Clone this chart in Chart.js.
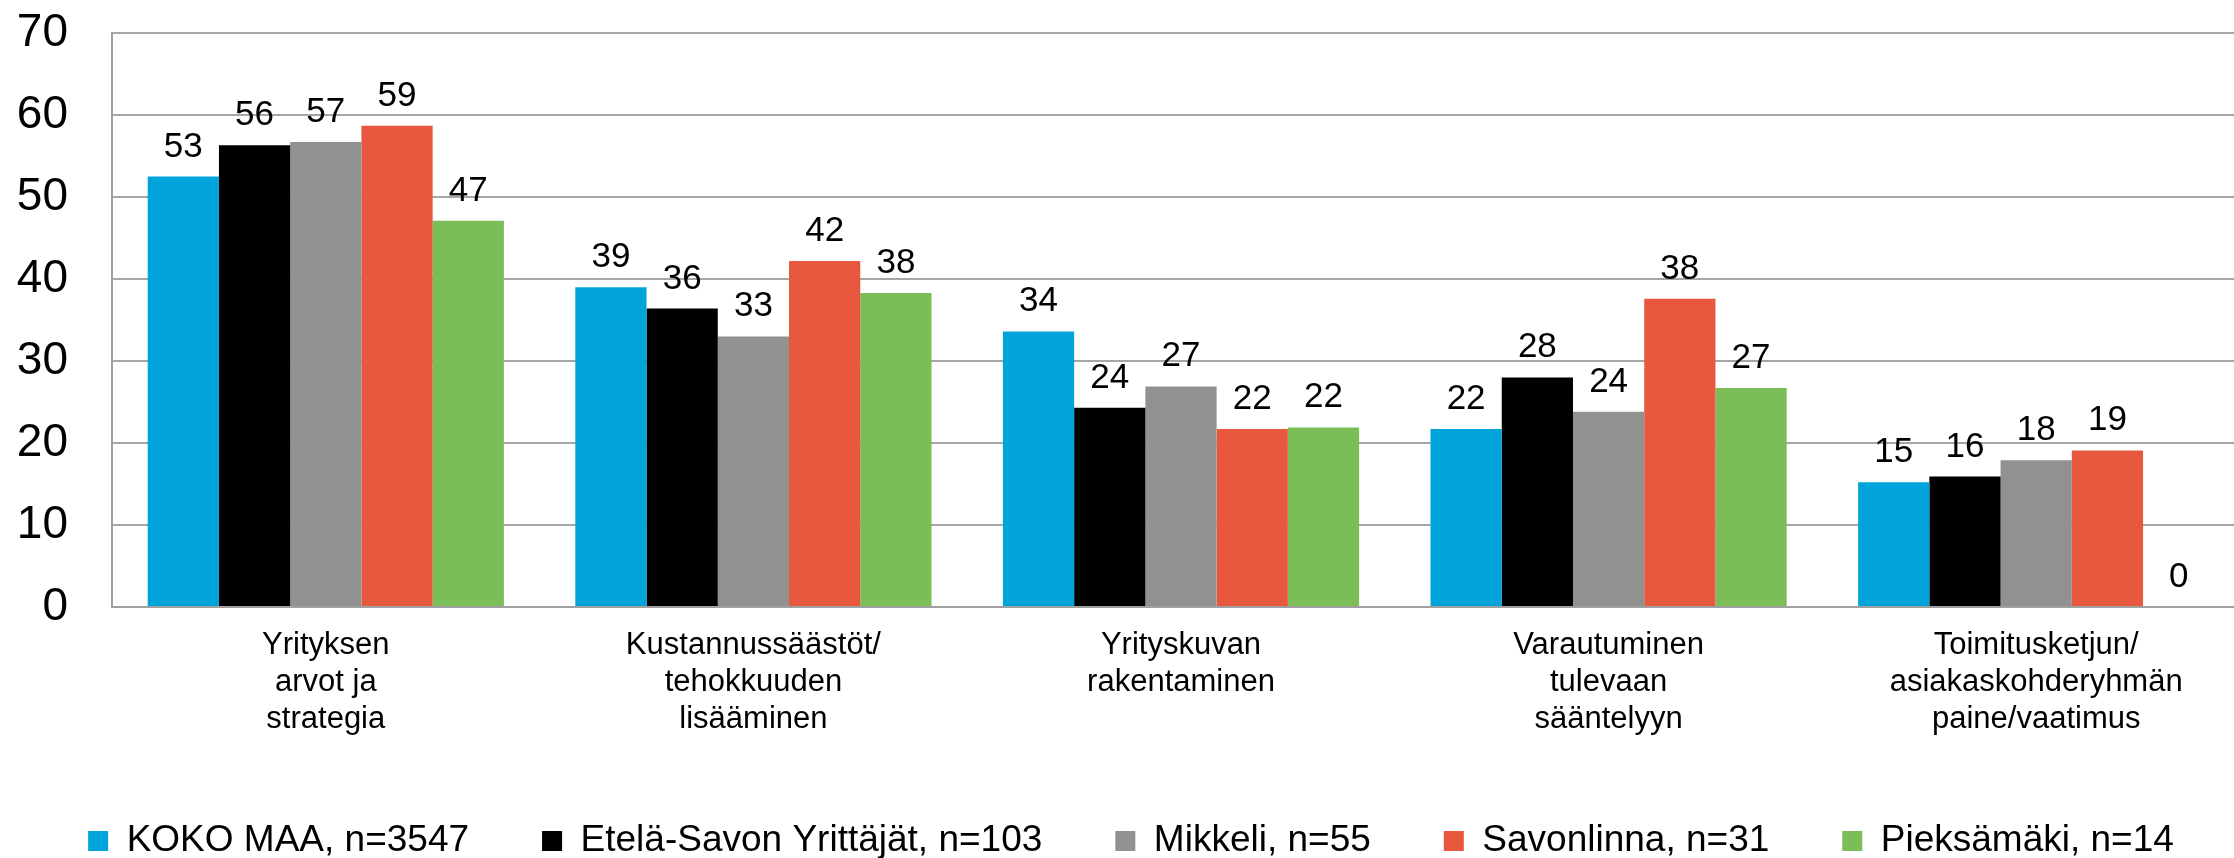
<!DOCTYPE html>
<html>
<head>
<meta charset="utf-8">
<script src="https://cdn.jsdelivr.net/npm/chart.js@4"></script>
<style>
  html, body { margin: 0; padding: 0; background: #fff; overflow: hidden; }
  #wrap { width: 2276px; height: 858px; position: relative; }
</style>
</head>
<body>
<div id="wrap"><canvas id="canvas"></canvas></div>
<script>
// kategoriat ja sarjat
var kategoriat = [
  ["Yrityksen", "arvot ja", "strategia"],
  ["Kustannussäästöt/", "tehokkuuden", "lisääminen"],
  ["Yrityskuvan", "rakentaminen"],
  ["Varautuminen", "tulevaan", "sääntelyyn"],
  ["Toimitusketjun/", "asiakaskohderyhmän", "paine/vaatimus"]
];
var sarjaNimet = ["KOKO MAA, n=3547", "Etelä-Savon Yrittäjät, n=103", "Mikkeli, n=55", "Savonlinna, n=31", "Pieksämäki, n=14"];
var kokoMaa    = [52.5, 39.0, 33.6, 21.7, 15.2];
var etelaSavo  = [56.3, 36.4, 24.3, 28.0, 15.9];
var mikkeli    = [56.7, 33.0, 26.9, 23.8, 17.9];
var savonlinna = [58.7, 42.2, 21.7, 37.6, 19.1];
var pieksamaki = [47.1, 38.3, 21.9, 26.7, 0];
var yTicks = [0, 10, 20, 30, 40, 50, 60, 70];

var varit = ["#00A4DA", "#000000", "#919191", "#E8583F", "#7BBD57"];
var sarjat = [kokoMaa, etelaSavo, mikkeli, savonlinna, pieksamaki];
var fontti = "'Liberation Sans', Arial, sans-serif";

var datasets = [];
for (var i = 0; i < sarjat.length; i++) {
  datasets.push({
    label: sarjaNimet[i],
    data: sarjat[i],
    backgroundColor: varit[i],
    borderWidth: 0,
    barPercentage: 1,
    categoryPercentage: 0.833
  });
}

// arvot pylväiden päälle
var arvoPlugin = {
  id: 'arvot',
  afterDatasetsDraw: function(chart) {
    var ctx = chart.ctx;
    ctx.save();
    ctx.font = "35px " + fontti;
    ctx.fillStyle = "#000";
    ctx.textAlign = "center";
    ctx.textBaseline = "alphabetic";
    chart.data.datasets.forEach(function(ds, di) {
      var meta = chart.getDatasetMeta(di);
      meta.data.forEach(function(bar, j) {
        ctx.fillText(Math.round(ds.data[j]), bar.x, bar.y - 20);
      });
    });
    ctx.restore();
  }
};

// legenda alemmas (ja vähän oikealle)
var LEG_PAD = 73;
var legendaSiirto = {
  id: 'legendaSiirto',
  afterLayout: function(chart) {
    var lg = chart.legend;
    var siirto = 841 - (lg.top + LEG_PAD + 18.5);
    lg.top += siirto;
    lg.bottom += siirto;
    lg.left += 6;
    lg.right += 6;
  }
};

var ctx = document.getElementById('canvas').getContext('2d');
window.myBar = new Chart(ctx, {
  type: 'bar',
  data: { labels: kategoriat, datasets: datasets },
  plugins: [arvoPlugin, legendaSiirto],
  options: {
    responsive: true,
    maintainAspectRatio: false,
    animation: false,
    layout: { padding: { top: 33, right: 26, left: 0, bottom: 0 } },
    plugins: {
      legend: {
        position: 'bottom',
        labels: {
          boxWidth: 20,
          boxHeight: 20,
          padding: LEG_PAD,
          color: '#000',
          font: { family: fontti, size: 37 }
        }
      },
      title: { display: false },
      tooltip: { enabled: false }
    },
    scales: {
      x: {
        grid: { display: false, drawTicks: false },
        border: { display: true, color: '#A0A0A0', width: 2 },
        ticks: {
          color: '#000',
          padding: 20,
          maxRotation: 0,
          autoSkip: false,
          font: { family: fontti, size: 31, lineHeight: 37 / 31 }
        },
        afterFit: function(scale) { scale.height = 858 - 607 - (LEG_PAD + 37 + 10); }
      },
      y: {
        min: 0,
        max: 70,
        afterBuildTicks: function(scale) {
          scale.ticks = yTicks.map(function(v) { return { value: v }; });
        },
        grid: { color: '#A6A6A6', lineWidth: 2, drawTicks: true, tickLength: 44, tickColor: 'rgba(0,0,0,0)' },
        border: { display: true, color: '#A0A0A0', width: 2 },
        ticks: {
          color: '#000',
          padding: 0,
          font: { family: fontti, size: 46 }
        },
        afterFit: function(scale) { scale.width = 112; }
      }
    }
  }
});
</script>
</body>
</html>
